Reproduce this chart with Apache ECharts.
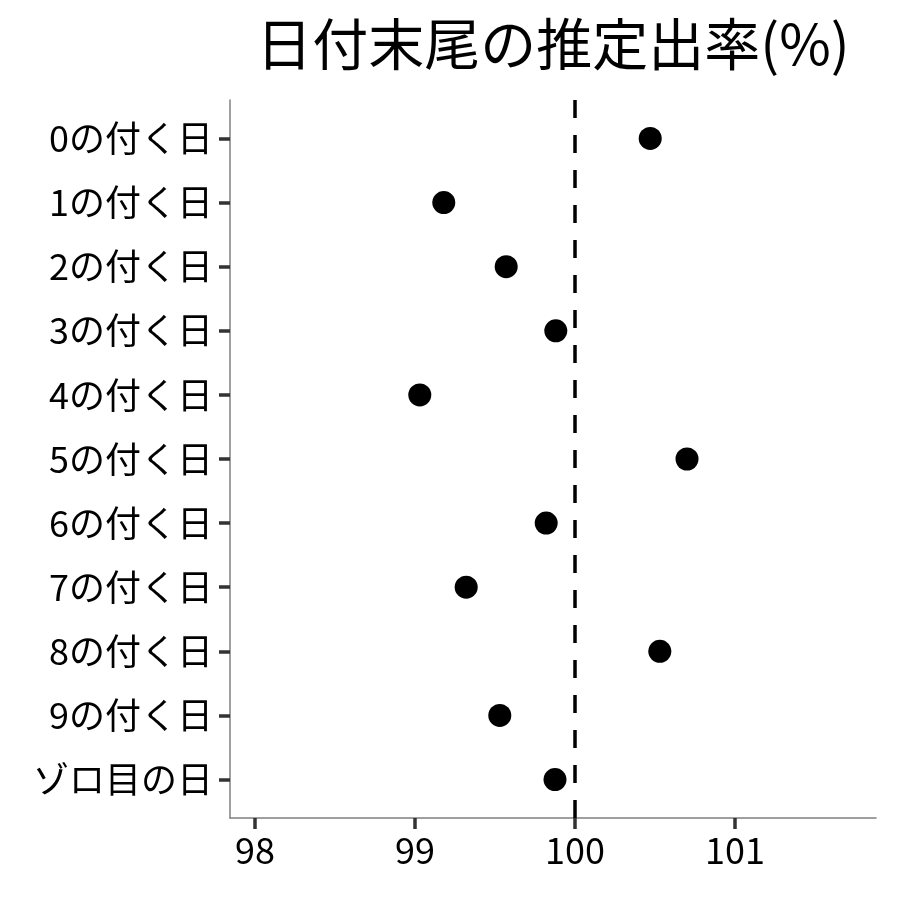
<!DOCTYPE html>
<html>
<head>
<meta charset="utf-8">
<script src="https://cdn.jsdelivr.net/npm/echarts@6/dist/echarts.min.js"></script>
<style>
  html, body { margin: 0; padding: 0; background: #fff; }
  #chart { width: 900px; height: 900px; }
</style>
</head>
<body>
<div id="chart"></div>
<script>
// 上から順に並ぶカテゴリ
const categories = ['0の付く日', '1の付く日', '2の付く日', '3の付く日', '4の付く日',
  '5の付く日', '6の付く日', '7の付く日', '8の付く日', '9の付く日', 'ゾロ目の日']
const rates = [100.47, 99.18, 99.57, 99.88, 99.03, 100.70, 99.82, 99.32, 100.53, 99.53, 99.875]
const xTicks = [98, 99, 100, 101]
const refValue = 100

const font = '"Noto Sans CJK JP", "Noto Sans", sans-serif'
const yIdx = categories.map((c, i) => i)

const chart = echarts.init(document.getElementById('chart'))

const option = {
  backgroundColor: '#ffffff',
  animation: false,
  title: {
    text: '日付末尾の推定出率(%)',
    left: 548,
    textAlign: 'center',
    top: 11,
    textStyle: { color: '#000', fontSize: 56, fontWeight: 'normal', fontFamily: font }
  },
  grid: { left: 230, right: 24, top: 100, bottom: 82 },
  xAxis: {
    type: 'value',
    min: 97.844,
    max: 101.881,
    axisLine: { show: true, onZero: false, lineStyle: { color: '#808080', width: 1.5 } },
    axisTick: { show: true, customValues: xTicks, length: 11, lineStyle: { color: '#333', width: 3.5 } },
    axisLabel: { customValues: xTicks, color: '#000', fontSize: 36, fontFamily: font, margin: 14 },
    splitLine: { show: false }
  },
  yAxis: {
    type: 'value',
    inverse: true,
    min: -0.6,
    max: categories.length - 0.4,
    axisLine: { show: true, onZero: false, lineStyle: { color: '#808080', width: 1.5 } },
    axisTick: { show: true, customValues: yIdx, length: 11, lineStyle: { color: '#333', width: 3.5 } },
    axisLabel: {
      customValues: yIdx,
      color: '#000',
      fontSize: 36,
      fontFamily: font,
      margin: 17,
      formatter: v => categories[Math.round(v)]
    },
    splitLine: { show: false }
  },
  series: [
    {
      type: 'scatter',
      data: rates.map((v, i) => [v, i]),
      symbol: 'circle',
      symbolSize: 23,
      itemStyle: { color: '#000', opacity: 1 },
      markLine: {
        silent: true,
        symbol: 'none',
        label: { show: false },
        lineStyle: { color: '#000', width: 3.5, type: [18, 17] },
        data: [{ xAxis: refValue }]
      }
    }
  ]
}

chart.setOption(option)
</script>
</body>
</html>
